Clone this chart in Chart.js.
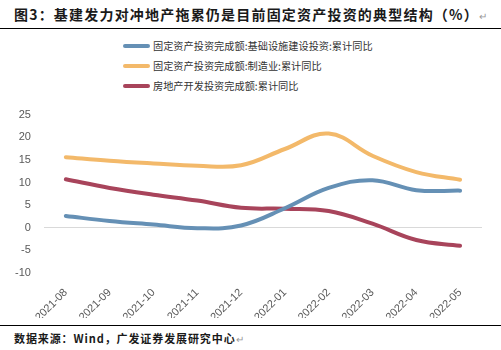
<!DOCTYPE html>
<html>
<head>
<meta charset="utf-8">
<script src="https://cdn.jsdelivr.net/npm/chart.js@4/dist/chart.umd.min.js"></script>
<style>
  body { margin: 0; background: #fff; width: 501px; height: 350px; position: relative; overflow: hidden; }
  .title { position: absolute; left: 14px; top: 4px; font: bold 14px "Noto Sans CJK SC"; color: #1a1a1a; letter-spacing: 1.2px; }
  .rule { position: absolute; left: 0; width: 501px; height: 1px; background: #000; }
  .legend { position: absolute; left: 123px; top: 36px; font: 10.2px "Noto Sans CJK SC"; color: #333; }
  .legend div { height: 20px; line-height: 16px; display: flex; align-items: center; }
  .legend span.sw { display: inline-block; width: 27px; height: 4px; border-radius: 2px; margin-right: 3px; }
  .source { position: absolute; left: 14px; top: 330px; font: bold 11px "Noto Sans CJK SC"; color: #1a1a1a; letter-spacing: 0.9px; }
  .ret { color: #999; font-weight: normal; font-size: 10px; }
  #wrap { position: absolute; left: 0; top: 95px; width: 501px; height: 223px; }
</style>
</head>
<body>
<div class="title">图3：基建发力对冲地产拖累仍是目前固定资产投资的典型结构（%）<span class="ret">↵</span></div>
<div class="rule" style="top:28px"></div>
<div class="legend" id="legend"></div>
<div id="wrap"><canvas id="c"></canvas></div>
<div class="rule" style="top:325px"></div>
<div class="source">数据来源：Wind，广发证券发展研究中心<span class="ret">↵</span></div>
<script>
// categories and series (cumulative YoY, %)
const months = ['2021-08', '2021-09', '2021-10', '2021-11', '2021-12',
  '2022-01', '2022-02', '2022-03', '2022-04', '2022-05'];
const infra = [2.6, 1.5, 0.7, -0.1, 0.5, 4.3, 8.8, 10.5, 8.3, 8.2];
const manuf = [15.6, 14.8, 14.2, 13.7, 13.8, 17.4, 20.8, 15.9, 12.3, 10.6];
const estate = [10.7, 8.8, 7.3, 6.0, 4.4, 4.2, 3.7, 0.9, -2.7, -4.0];
const yTicks = [-10, -5, 0, 5, 10, 15, 20, 25];

const names = ['固定资产投资完成额:基础设施建设投资:累计同比',
  '固定资产投资完成额:制造业:累计同比',
  '房地产开发投资完成额:累计同比'];
const colors = ['#6590B5', '#F3B96A', '#A8445B'];

const legendEl = document.getElementById('legend');
legendEl.innerHTML = names.map((n, i) =>
  `<div><span class="sw" style="background:${colors[i]}"></span>${n}</div>`).join('');

const series = [infra, manuf, estate];

new Chart(document.getElementById('c'), {
  type: 'line',
  data: {
    labels: months,
    datasets: series.map((d, i) => ({
      label: names[i],
      data: d,
      borderColor: colors[i],
      borderWidth: 4,
      pointRadius: 0,
      tension: 0.4,
      borderCapStyle: 'round',
      fill: false
    }))
  },
  options: {
    responsive: true,
    maintainAspectRatio: false,
    animation: false,
    layout: { padding: { top: 9, right: 19, left: 2, bottom: 0 } },
    plugins: { legend: { display: false }, tooltip: { enabled: false } },
    scales: {
      x: {
        offset: true,
        grid: { display: false },
        border: { display: false },
        afterFit: axis => { axis.height = 45; },
        ticks: {
          color: '#595959',
          font: { family: 'Liberation Sans', size: 11 },
          maxRotation: 45, minRotation: 45,
          padding: 5
        }
      },
      y: {
        min: -10, max: 25,
        afterBuildTicks: axis => { axis.ticks = yTicks.map(v => ({ value: v })); },
        border: { display: false },
        grid: {
          drawTicks: false,
          color: ctx => ctx.tick && ctx.tick.value === 0 ? '#d9d9d9' : 'rgba(0,0,0,0)'
        },
        ticks: {
          color: '#595959',
          font: { family: 'Liberation Sans', size: 11 },
          padding: 13
        }
      }
    }
  }
});
</script>
</body>
</html>
